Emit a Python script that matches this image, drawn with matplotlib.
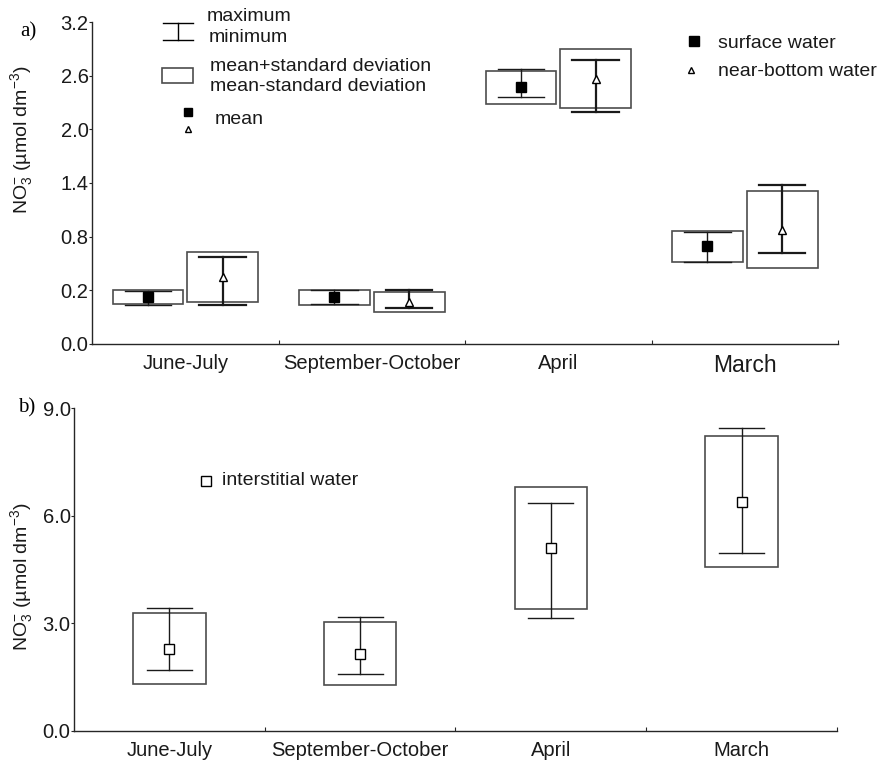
import matplotlib
matplotlib.use("Agg")
import matplotlib.pyplot as plt
from matplotlib.patches import Rectangle
import numpy as np

plt.rcParams['font.family'] = ['Liberation Sans', 'DejaVu Sans']
plt.rcParams['mathtext.default'] = 'regular'

seasons = ["June-July", "September-October", "April", "March"]

# a) surface and near-bottom water, NO3- (umol dm-3)
surf_mean = [0.126, 0.122, 2.474, 0.694]
surf_sd_hi = [0.208, 0.200, 2.652, 0.861]
surf_sd_lo = [0.052, 0.041, 2.288, 0.519]
surf_max = [0.193, 0.200, 2.677, 0.850]
surf_min = [0.041, 0.049, 2.362, 0.516]

bot_mean = [0.349, 0.071, 2.566, 0.875]
bot_sd_hi = [0.630, 0.182, 2.900, 1.306]
bot_sd_lo = [0.071, -0.040, 2.243, 0.452]
bot_max = [0.567, 0.200, 2.774, 1.372]
bot_min = [0.041, 0.004, 2.196, 0.619]

# b) interstitial water
int_mean = [2.29, 2.15, 5.09, 6.40]
int_sd_hi = [3.28, 3.03, 6.81, 8.22]
int_sd_lo = [1.31, 1.27, 3.40, 4.57]
int_max = [3.44, 3.19, 6.36, 8.46]
int_min = [1.71, 1.58, 3.15, 4.97]

top_ticks = [-0.4, 0.2, 0.8, 1.4, 2.0, 2.6, 3.2]
top_ticklabels = ["0.0", "0.2", "0.8", "1.4", "2.0", "2.6", "3.2"]
bot_ticks = [0.0, 3.0, 6.0, 9.0]

FS = 14


def draw_box(ax, x, lo, hi, vmin, vmax, mean, marker, face, w=0.38, cap=0.25,
             lw=1.0, ms=7):
    ax.add_patch(Rectangle((x - w / 2, lo), w, hi - lo, fill=False,
                           edgecolor='0.3', lw=1.2, zorder=2))
    ax.plot([x, x], [vmin, vmax], color='0.1', lw=lw, zorder=3)
    ax.plot([x - cap / 2, x + cap / 2], [vmax, vmax], color='0.1', lw=lw, zorder=3)
    ax.plot([x - cap / 2, x + cap / 2], [vmin, vmin], color='0.1', lw=lw, zorder=3)
    ax.plot(x, mean, marker=marker, ms=ms, mfc=face, mec='black', mew=1.0,
            ls='none', zorder=4)


def style_axis(ax, ticks, ticklabels):
    for s in ['top', 'right']:
        ax.spines[s].set_visible(False)
    for s in ['left', 'bottom']:
        ax.spines[s].set_color('0.15')
        ax.spines[s].set_linewidth(1.0)
    ax.set_xlim(0, 4)
    ax.set_xticks([1, 2, 3, 4])
    ax.set_xticklabels([])
    ax.tick_params(axis='x', which='major', direction='in', length=3, color='0.15')
    ax.set_xticks(np.arange(4) + 0.5, minor=True)
    ax.tick_params(axis='x', which='minor', length=0, pad=7, labelsize=14.5,
                   labelcolor='0.1')
    ax.set_yticks(ticks)
    ax.set_yticklabels(ticklabels)
    ax.tick_params(axis='y', direction='out', length=2, pad=0.5, labelsize=14.5,
                   color='0.15', labelcolor='0.1')


fig = plt.figure(figsize=(8.84, 7.62), dpi=100)

# panel a
ax1 = fig.add_axes([0.1041, 0.5486, 0.8439, 0.4225])
style_axis(ax1, top_ticks, top_ticklabels)
ax1.set_ylim(-0.4, 3.2)
ax1.set_xticklabels(seasons, minor=True)
ax1.get_xticklabels(minor=True)[3].set_fontsize(16.5)
for i in range(4):
    draw_box(ax1, i + 0.3, surf_sd_lo[i], surf_sd_hi[i], surf_min[i], surf_max[i],
             surf_mean[i], 's', 'black', lw=1.0, ms=7.5)
    draw_box(ax1, i + 0.7, bot_sd_lo[i], bot_sd_hi[i], bot_min[i], bot_max[i],
             bot_mean[i], '^', 'white', lw=1.6, ms=6)

# key for the symbols
tr = ax1.transAxes
ax1.plot([0.115, 0.115], [0.944, 0.997], color='black', lw=1, transform=tr, clip_on=False)
ax1.plot([0.095, 0.135], [0.997, 0.997], color='black', lw=1, transform=tr, clip_on=False)
ax1.plot([0.095, 0.135], [0.944, 0.944], color='black', lw=1, transform=tr, clip_on=False)
ax1.text(0.154, 1.016, "maximum", transform=tr, fontsize=FS, va='center', color='0.1')
ax1.text(0.156, 0.953, "minimum", transform=tr, fontsize=FS, va='center', color='0.1')
ax1.add_patch(Rectangle((0.094, 0.811), 0.041, 0.046, fill=False, edgecolor='0.3',
                        lw=1.2, transform=tr))
ax1.text(0.158, 0.862, "mean+standard deviation", transform=tr, fontsize=FS,
         va='center', color='0.1')
ax1.text(0.158, 0.800, "mean-standard deviation", transform=tr, fontsize=FS,
         va='center', color='0.1')
ax1.plot(0.129, 0.720, marker='s', ms=6, mfc='black', mec='black', transform=tr)
ax1.plot(0.129, 0.668, marker='^', ms=5, mfc='white', mec='black', transform=tr)
ax1.text(0.165, 0.696, "mean", transform=tr, fontsize=FS, va='center', color='0.1')
ax1.plot(0.807, 0.941, marker='s', ms=6.5, mfc='black', mec='black', transform=tr)
ax1.plot(0.803, 0.851, marker='^', ms=5, mfc='white', mec='black', transform=tr)
ax1.text(0.839, 0.932, "surface water", transform=tr, fontsize=FS, va='center',
         color='0.1')
ax1.text(0.839, 0.845, "near-bottom water", transform=tr, fontsize=FS, va='center',
         color='0.1')

# panel b
ax2 = fig.add_axes([0.0837, 0.0407, 0.8631, 0.4235])
style_axis(ax2, bot_ticks, ["0.0", "3.0", "6.0", "9.0"])
ax2.set_ylim(0, 9)
ax2.set_xticklabels(seasons, minor=True)
for i in range(4):
    draw_box(ax2, i + 0.5, int_sd_lo[i], int_sd_hi[i], int_min[i], int_max[i],
             int_mean[i], 's', 'white', cap=0.236, lw=1.0, ms=7.5)

tr2 = ax2.transAxes
ax2.plot(0.173, 0.775, marker='s', ms=6.5, mfc='white', mec='black', transform=tr2)
ax2.text(0.194, 0.775, "interstitial water", transform=tr2, fontsize=FS, va='center',
         color='0.1')

ylab = r"NO$_3^{-}$ (µmol dm$^{-3}$)"
fig.text(0.0249, 0.816, ylab, rotation=90, ha='center', va='center', fontsize=FS,
         color='0.1')
fig.text(0.0249, 0.243, ylab, rotation=90, ha='center', va='center', fontsize=FS,
         color='0.1')
fig.text(0.032, 0.958, "a)", family='Liberation Serif', fontsize=15, ha='center',
         va='center')
fig.text(0.030, 0.4646, "b)", family='Liberation Serif', fontsize=15, ha='center',
         va='center')

fig.savefig("out.png", dpi=100)
